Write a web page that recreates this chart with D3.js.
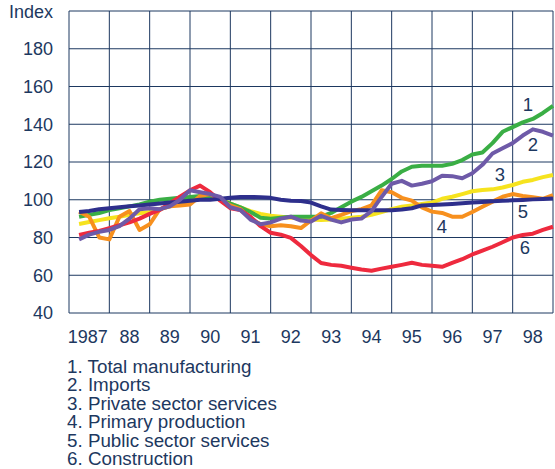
<!DOCTYPE html>
<html>
<head>
<meta charset="utf-8">
<script src="https://d3js.org/d3.v7.min.js"></script>
<style>
body{margin:0;background:#fff;}
svg{display:block;font-family:"Liberation Sans",Arial,sans-serif;}
</style>
</head>
<body>
<script>
const width = 555;
const height = 469;

// quarterly observations, 1987 Q2 .. 1998 Q4 (index)
const years = [1987,1988,1989,1990,1991,1992,1993,1994,1995,1996,1997,1998];
const yearLabels = ['1987','88','89','90','91','92','93','94','95','96','97','98'];
const yTicks = [40,60,80,100,120,140,160,180];

const manufacturing = [91,92,93,94.5,95.5,96.5,97.5,99,100,100.5,101,101.5,102,102,100,98,96,93.5,90.5,90,90.5,91,91,91,91,93,96,99,101.5,104.5,107.5,111,115,117.5,118,118,118,119,121,124,125,130,136,138.5,141,142.8,146,149.7];
const imports = [79,81.5,83,84,86,90,95,95.5,95,96.5,100,105,104,103,101.5,96,94.5,89.5,87,88,90,91,89,88.5,91.5,89.5,88,89.5,90,94,101.5,108.5,110,107.5,108.5,109.8,112.7,112.5,111.4,114,118.5,124.5,127.3,130,134,137.3,136,134];
const privateServices = [87.2,88.2,89.2,90.2,91,92,92.8,93.5,95,96.5,98,99.5,101,101.5,100.5,98,96,94,92.5,91.5,91,90.5,90,89.5,89.3,89.5,90,90.5,91,92,93.5,95,96.3,97,97.8,98.5,100.5,101.6,103,104.5,105.2,105.5,106.5,107.8,109.5,110.5,112,113.1];
const primary = [93.7,91,80,79,91,94,84,87,95,96.5,97,97.5,102,103,100,97,95,90,87,86,86.5,86,85,89,92.8,90.2,92,94,95,97,105,104,101,99.5,96,93.7,93,91,91,93.5,96.3,99,101.6,103,102,101.3,100.5,102.5];
const publicServices = [93.5,94,95,95.5,96,96.5,97,97.5,98,98.5,99,99.5,100,100,100.5,101,101.5,101.5,101.3,101,100,99.5,99.3,98.5,96.5,94.8,94.6,94.5,94.5,94.5,94.5,94.5,94.8,95.5,97,97.2,97.5,97.8,98.1,98.5,98.8,99.2,99.5,99.7,99.9,100.2,100.4,100.7];
const construction = [81.3,82.5,83.5,85,86.5,88,90,92.5,94.6,98,101.6,105,107.5,104,99.5,95.5,94.5,91,86,82.5,81.5,79.8,75.5,70.7,66.5,65.5,65,64,63,62.4,63.5,64.5,65.5,66.6,65.5,65,64.5,66.5,68.5,71,73,75.1,77.5,80,81.3,82,84,85.7];

const legendLabels = ['1. Total manufacturing','2. Imports','3. Private sector services','4. Primary production','5. Public sector services','6. Construction'];

const series = [
  {key:'3', values:privateServices, color:'#f6e31e'},
  {key:'1', values:manufacturing, color:'#3aae45'},
  {key:'4', values:primary, color:'#f7901e'},
  {key:'6', values:construction, color:'#ee2a3e'},
  {key:'5', values:publicServices, color:'#2e2f8c'},
  {key:'2', values:imports, color:'#6e5aa8'}
];

const labelPos = {'1':[528,111],'2':[533,151],'3':[500,181],'4':[442,233],'5':[523,218],'6':[525,254]};

const ink = '#1d3860';
const margin = {left:69, right:2, top:11, bottom:156};

const x = d3.scaleLinear().domain([1987,1999]).range([margin.left, width-margin.right]);
const y = d3.scaleLinear().domain([40,200]).range([height-margin.bottom, margin.top]);

const svg = d3.select('body').append('svg')
    .attr('width',width)
    .attr('height',height);

// grid
const grid = svg.append('g');
grid.selectAll('line.h')
    .data(d3.range(40,201,20))
    .enter().append('line')
      .attr('x1',x(1987)).attr('x2',x(1999))
      .attr('y1',d=>y(d)).attr('y2',d=>y(d))
      .attr('stroke',ink).attr('stroke-width',1);
grid.selectAll('line.v')
    .data(d3.range(1987,2000))
    .enter().append('line')
      .attr('y1',y(40)).attr('y2',y(200))
      .attr('x1',d=>x(d)).attr('x2',d=>x(d))
      .attr('stroke',ink).attr('stroke-width',1);

// y labels
svg.append('g').selectAll('text')
    .data(yTicks)
    .enter().append('text')
      .attr('x',53)
      .attr('y',d=>y(d))
      .attr('dy','0.36em')
      .attr('text-anchor','end')
      .attr('font-size',18)
      .attr('fill',ink)
      .text(d=>d);
svg.append('text')
    .attr('x',53).attr('y',18)
    .attr('text-anchor','end')
    .attr('font-size',18)
    .attr('fill',ink)
    .text('Index');

// x labels
svg.append('g').selectAll('text')
    .data(years)
    .enter().append('text')
      .attr('x',(d,i)=>x(d+0.5) - (i===0?1.5:0))
      .attr('y',343)
      .attr('text-anchor','middle')
      .attr('font-size',18)
      .attr('fill',ink)
      .text((d,i)=>yearLabels[i]);

// lines
const line = d3.line()
    .x((d,i)=>x(1987.25 + i*0.25))
    .y(d=>y(d));

svg.append('g').selectAll('path')
    .data(series)
    .enter().append('path')
      .attr('d',d=>line(d.values))
      .attr('fill','none')
      .attr('stroke',d=>d.color)
      .attr('stroke-width',4)
      .attr('stroke-linejoin','round');

svg.append('g').selectAll('text')
    .data(series)
    .enter().append('text')
      .attr('x',d=>labelPos[d.key][0])
      .attr('y',d=>labelPos[d.key][1])
      .attr('text-anchor','middle')
      .attr('font-size',18.5)
      .attr('fill',ink)
      .text(d=>d.key);

// legend
svg.append('g').selectAll('text')
    .data(legendLabels)
    .enter().append('text')
      .attr('x',67)
      .attr('y',(d,i)=>373 + i*18.4)
      .attr('font-size',18.8)
      .attr('fill',ink)
      .text(d=>d);
</script>
</body>
</html>
